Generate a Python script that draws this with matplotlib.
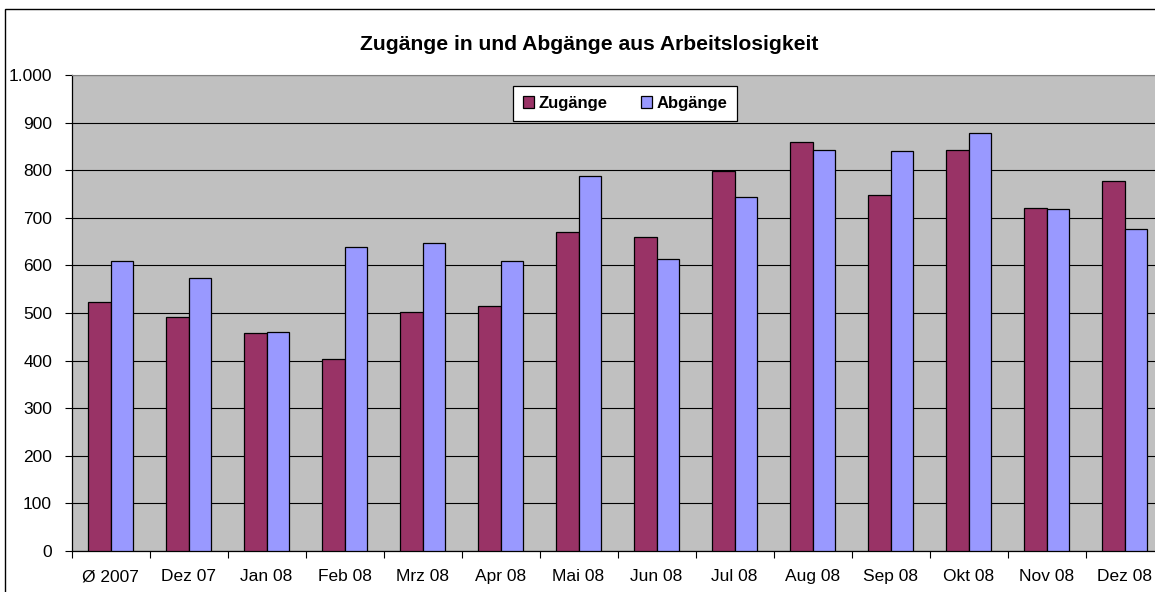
import matplotlib.pyplot as plt
import matplotlib.ticker as mticker
from matplotlib.patches import Rectangle
import numpy as np

plt.rcParams['font.family'] = ['Liberation Sans', 'DejaVu Sans']

# Daten
monate = ['Ø 2007', 'Dez 07', 'Jan 08', 'Feb 08', 'Mrz 08', 'Apr 08', 'Mai 08',
          'Jun 08', 'Jul 08', 'Aug 08', 'Sep 08', 'Okt 08', 'Nov 08', 'Dez 08']
zugaenge = [524, 491, 459, 403, 503, 515, 671, 660, 799, 859, 748, 842, 721, 778]
abgaenge = [610, 573, 461, 638, 648, 609, 788, 613, 744, 842, 841, 879, 718, 677]

W, H = 1155, 592
fig = plt.figure(figsize=(W / 100, H / 100), dpi=100)

# Rahmen um das Diagramm (rechts und unten abgeschnitten)
fig.patches.append(Rectangle((5 / W, -0.1), 1.2, (H - 9) / H + 0.1, transform=fig.transFigure,
                             fill=False, edgecolor='black', linewidth=1.0))

left, right = 71.5, 1163.5
ax = fig.add_axes([left / W, 41 / H, (right - left) / W, (551 - 75) / H])
ax.set_facecolor('#C0C0C0')

x = np.arange(len(monate))
w = 0.285
ax.bar(x - w / 2, zugaenge, w, color='#993366', edgecolor='black', linewidth=0.9,
       label='Zugänge', zorder=3)
ax.bar(x + w / 2, abgaenge, w, color='#9999FF', edgecolor='black', linewidth=0.9,
       label='Abgänge', zorder=3)

ax.set_xlim(-0.5, len(monate) - 0.5)
ax.set_ylim(0, 1000)
ax.set_yticks(range(0, 1001, 100))
ax.yaxis.set_major_formatter(mticker.FuncFormatter(lambda v, p: f'{int(v):,}'.replace(',', '.')))
ax.yaxis.grid(True, color='black', linewidth=0.8, zorder=1)
ax.set_axisbelow(True)

# Ticks zwischen den Kategorien, Beschriftung mittig
ax.set_xticks(np.arange(-0.5, len(monate), 1.0))
ax.set_xticklabels([])
ax.set_xticks(x, minor=True)
ax.set_xticklabels(monate, minor=True, fontsize=12.5)
ax.tick_params(axis='x', which='minor', length=0, pad=13)
ax.tick_params(axis='x', which='major', length=5, width=0.8, direction='out')
ax.tick_params(axis='y', length=5, width=0.8, direction='out', labelsize=12.5, pad=9)

ax.spines['top'].set_color('#808080')
ax.spines['right'].set_visible(False)
ax.spines['left'].set_linewidth(0.9)
ax.spines['bottom'].set_linewidth(0.9)

fig.text(589 / W, 1 - 45 / H, 'Zugänge in und Abgänge aus Arbeitslosigkeit',
         ha='center', va='center', fontsize=15.2, fontweight='bold')

leg = ax.legend(loc='center', bbox_to_anchor=((625 - left) / (right - left), (551 - 103.5) / 476),
                ncol=2, prop={'weight': 'bold', 'size': 12},
                frameon=True, fancybox=False, edgecolor='black', framealpha=1,
                handlelength=0.7, handleheight=0.7, handletextpad=0.25,
                columnspacing=2.0, borderpad=0.6)
leg.get_frame().set_linewidth(0.9)

fig.savefig('out.png', dpi=100)
